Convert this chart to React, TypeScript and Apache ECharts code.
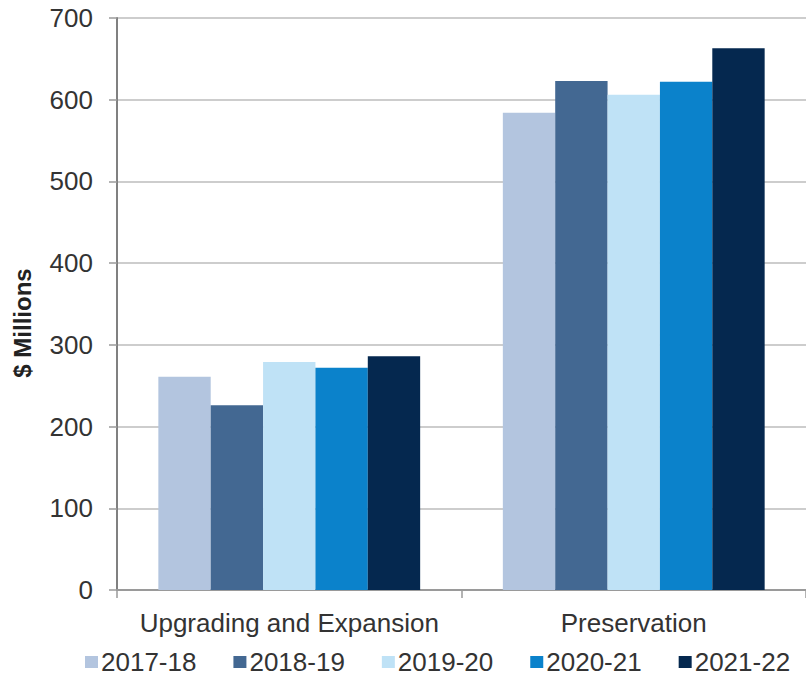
import React, { useEffect, useRef } from "react";
import * as echarts from "echarts";

// Spending by program area, in $ millions
const categories = ["Upgrading and Expansion", "Preservation"];
const years = ["2017-18", "2018-19", "2019-20", "2020-21", "2021-22"];
const values2017 = [261, 584];
const values2018 = [226, 623];
const values2019 = [279, 606];
const values2020 = [272, 622];
const values2021 = [286, 663];
const seriesValues = [values2017, values2018, values2019, values2020, values2021];
const colors = ["#b3c5df", "#436892", "#bfe2f6", "#0b82cb", "#05284f"];
const yTicks = { min: 0, max: 700, interval: 100 };

const FONT = "'Liberation Sans', Arial, Helvetica, sans-serif";

export default function App() {
  const ref = useRef<HTMLDivElement>(null);

  useEffect(() => {
    if (!ref.current) return;
    const chart = echarts.init(ref.current, null, { renderer: "svg" });
    chart.setOption({
      animation: false,
      textStyle: { fontFamily: FONT },
      grid: { left: 117, right: -9, top: 18, bottom: 89, containLabel: false },
      legend: {
        data: years,
        left: 85,
        top: 649,
        padding: 0,
        itemGap: 37,
        itemWidth: 13,
        itemHeight: 12,
        icon: "rect",
        textStyle: { fontSize: 26, color: "#333", fontFamily: FONT, padding: [0, 0, 0, -2] },
      },
      xAxis: {
        type: "category",
        data: categories,
        axisLine: { lineStyle: { color: "#9a9a9a", width: 2 } },
        axisTick: { show: true, length: 8, lineStyle: { color: "#9a9a9a", width: 1.5 } },
        axisLabel: { fontSize: 26, color: "#333", margin: 20, interval: 0, hideOverlap: false, fontFamily: FONT },
      },
      yAxis: {
        type: "value",
        min: yTicks.min,
        max: yTicks.max,
        interval: yTicks.interval,
        axisLine: { show: true, lineStyle: { color: "#808080", width: 2 } },
        axisTick: { show: true, length: 8, lineStyle: { color: "#9a9a9a", width: 1.5 } },
        axisLabel: { fontSize: 26, color: "#333", margin: 24, fontFamily: FONT },
        splitLine: { show: true, lineStyle: { color: "#bdbdbd", width: 1.5 } },
      },
      graphic: [
        {
          type: "text",
          x: 22,
          y: 323,
          rotation: Math.PI / 2,
          style: {
            text: "$ Millions",
            fontSize: 24,
            fontWeight: "bold",
            fontFamily: FONT,
            fill: "#222",
            textAlign: "center",
            textVerticalAlign: "middle",
          },
        },
      ],
      series: years.map((y, i) => ({
        name: y,
        type: "bar",
        data: seriesValues[i],
        barGap: "0%",
        barCategoryGap: "24%",
        itemStyle: { color: colors[i] },
      })),
    });
    return () => chart.dispose();
  }, []);

  return (
    <div
      ref={ref}
      style={{ position: "fixed", left: 0, top: 0, width: 806, height: 679, background: "#fff" }}
    />
  );
}
